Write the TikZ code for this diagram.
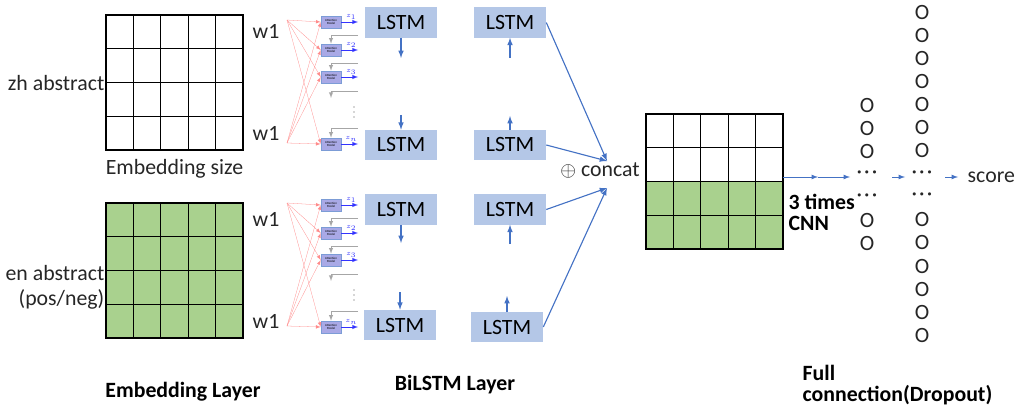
\documentclass[tikz,border=0pt]{standalone}
\usepackage{fontspec}
\setmainfont{Carlito}
\usetikzlibrary{positioning}
\usetikzlibrary{arrows.meta}
\definecolor{lstmblue}{HTML}{B4C7E7}
\definecolor{cellgreen}{HTML}{A9D18E}
\definecolor{arrowblue}{HTML}{4472C4}
\definecolor{attnfill}{HTML}{A9A9E6}
\newcommand{\hdots}{·\kern1.5pt·\kern1.5pt·}
\tikzset{
    cell/.style = {rectangle, draw=black, line width=0.8pt, minimum width=0.685cm, minimum height=0.844cm, inner sep=0pt, outer sep=0pt},
    cellg/.style = {cell, fill=cellgreen},
    lstm/.style = {rectangle, fill=lstmblue, minimum width=1.8cm, minimum height=0.75cm, font=\fontsize{15.5}{18}\selectfont},
    attn/.style = {rectangle, draw=arrowblue!70, fill=attnfill, minimum width=0.5cm, minimum height=0.3cm, inner sep=0pt, align=center, font=\fontsize{2.2}{2.4}\selectfont},
    txt/.style = {font=\fontsize{15.5}{18}\selectfont, text=black!85, inner sep=1pt},
    unit/.style = {txt, inner sep=0pt},
    btxt/.style = {font=\fontsize{15.5}{14.5}\selectfont\bfseries, inner sep=1pt},
    edgeb/.style = {-latex, thick, arrowblue},
    edgef/.style = {-latex, semithick, arrowblue}, % fully connected flow
    edger/.style = {-latex, very thin, red!45},
    edgez/.style = {-latex, thin, blue!80},
    edgeg/.style = {-latex, thin, gray!70}, % state passed down
}

\begin{document}
\begin{tikzpicture}[x=0.025cm, y=-0.025cm]
\useasboundingbox (0,0) rectangle (1023,413);
% embedding matrices
\foreach \r in {1,...,4}
  \foreach \c in {1,...,5} {
    \node[cell] (zh-\r-\c) at ({119.7+27.4*(\c-1)}, {31.9+33.75*(\r-1)}) {};
    \node[cellg] (en-\r-\c) at ({119.7+27.4*(\c-1)}, {219.9+33.75*(\r-1)}) {};
  }
\node[txt, anchor=east] (zhlab) at (zh-2-1.south west) {zh abstract};
\node[txt, below=0.2cm of zh-4-3] (embsize) {Embedding size};
\node[txt, align=right, anchor=east] (enlab) at (en-3-1.west) {en abstract\\(pos/neg)};
\node[txt, right=0.2cm of zh-1-5] (w1a) {w1};
\node[txt, right=0.2cm of zh-4-5] (w1b) {w1};
\node[txt, right=0.2cm of en-1-5] (w1c) {w1};
\node[txt, right=0.2cm of en-4-5] (w1d) {w1};
%
% attention modules in front of the BiLSTM
\foreach \g/\dy in {zh/0, en/183} {
  \begin{scope}[shift={(0,\dy)}]
    \coordinate (\g-s1) at (287,20);
    \coordinate (\g-s2) at (287,143);
    \foreach \k/\ay/\zl in {1/22/1, 2/50/2, 3/77/3, 4/144/n} {
      \node[attn] (\g-a\k) at (331,\ay) {Attention\\Model};
      \coordinate (\g-z\k) at (358,\ay);
      \draw[edger] (\g-s1) -- (\g-a\k.west);
      \draw[edger] (\g-s2) -- (\g-a\k.west);
      \draw[edgez] (\g-a\k) -- (\g-z\k) node[pos=0.6, above=-1.5pt, font=\fontsize{5}{5}\selectfont, text=blue!80] {$z_{\zl}$};
    }
    \coordinate (\g-f1) at (358,35);
    \coordinate (\g-f2) at (358,63);
    \coordinate (\g-f3) at (358,91);
    \coordinate (\g-f3e) at (331,98);
    \coordinate (\g-f4) at (358,128);
    \draw[edgeg] (\g-f1) -| (\g-a2.north);
    \draw[edgeg] (\g-f2) -| (\g-a3.north);
    \draw[edgeg] (\g-f3) -| (\g-f3e);
    \draw[edgeg] (\g-f4) -| (\g-a4.north);
    % vertical ellipsis
    \foreach \yy in {107,112,117}
      \fill[black!70] (354,\yy) circle (0.45pt);
  \end{scope}
}
%
% BiLSTM
\node[lstm] (l1) at (401,22.5) {LSTM};
\node[lstm] (l2) at (401,145) {LSTM};
\node[lstm] (r1) at (510,22.5) {LSTM};
\node[lstm] (r2) at (510,145) {LSTM};
\node[lstm] (l3) at (401,209.5) {LSTM};
\node[lstm] (l4) at (400,325) {LSTM};
\node[lstm] (r3) at (510,209.5) {LSTM};
\node[lstm] (r4) at (507,327) {LSTM};
\coordinate (l1d) at (401,58);
\coordinate (l2u) at (401,115);
\coordinate (r1d) at (510,58);
\coordinate (r2u) at (510,116);
\coordinate (l3d) at (401,243);
\coordinate (l4u) at (400,292);
\coordinate (r3d) at (510,244);
\coordinate (r4u) at (507,296);
\draw[edgeb] (l1) -- (l1d);
\draw[edgeb] (l2u) -- (l2);
\draw[edgeb] (r1d) -- (r1);
\draw[edgeb] (r2) -- (r2u);
\draw[edgeb] (l3) -- (l3d);
\draw[edgeb] (l4u) -- (l4);
\draw[edgeb] (r3d) -- (r3);
\draw[edgeb] (r4) -- (r4u);
%
% concat
\coordinate (cc1) at (607,161);
\coordinate (cc2) at (607,188);
\node[txt] (concat) at (600,170) {$\oplus$ concat};
\draw[edgeb] (r1.east) -- (cc1);
\draw[edgeb] (r2.east) -- (cc1);
\draw[edgeb] (r3.east) -- (cc2);
\draw[edgeb] (r4.east) -- (cc2);
%
% CNN input matrix
\foreach \r/\st in {1/cell, 2/cell, 3/cellg, 4/cellg}
  \foreach \c in {1,...,5}
    \node[\st] (cnn-\r-\c) at ({659.7+27.4*(\c-1)}, {130.9+33.75*(\r-1)}) {};
\node[btxt, align=left, anchor=west] (cnnlab) at (787,212.5) {3 times\\CNN};
%
% fully connected layers
\foreach \k/\yy in {1/106, 2/129, 3/152, 6/221, 7/244}
  \node[unit] (ha\k) at (867,\yy) {O};
\node[unit] (ha4) at (867,175) {\hdots};
\node[unit] (ha5) at (867,198) {\hdots};
\foreach \k in {0,1,2,3,4,5,6,9,10,11,12,13,14}
  \node[unit] (hb\k) at (922,{13+23*\k}) {O};
\node[unit] (hb7) at (922,175) {\hdots};
\node[unit] (hb8) at (922,197) {\hdots};
\node[txt, anchor=west] (score) at (966,177) {score};
\coordinate (fc0) at (783,177);
\coordinate (fc1) at (818,177);
\coordinate (fc2) at (850,177);
\coordinate (fc3) at (892,177);
\coordinate (fc4) at (905,177);
\coordinate (fc5) at (945,177);
\coordinate (fc6) at (958,177);
\draw[edgef] (fc0) -- (fc1);
\draw[edgef] (fc1) -- (fc2);
\draw[edgef] (fc3) -- (fc4);
\draw[edgef] (fc5) -- (fc6);
%
% layer captions
\node[btxt] (emblayer) at (183,392) {Embedding Layer};
\node[btxt] (bilayer) at (455,385) {BiLSTM Layer};
\node[btxt, align=left, anchor=west] (fclayer) at (801,385) {Full\\connection(Dropout)};
\end{tikzpicture}
\end{document}
